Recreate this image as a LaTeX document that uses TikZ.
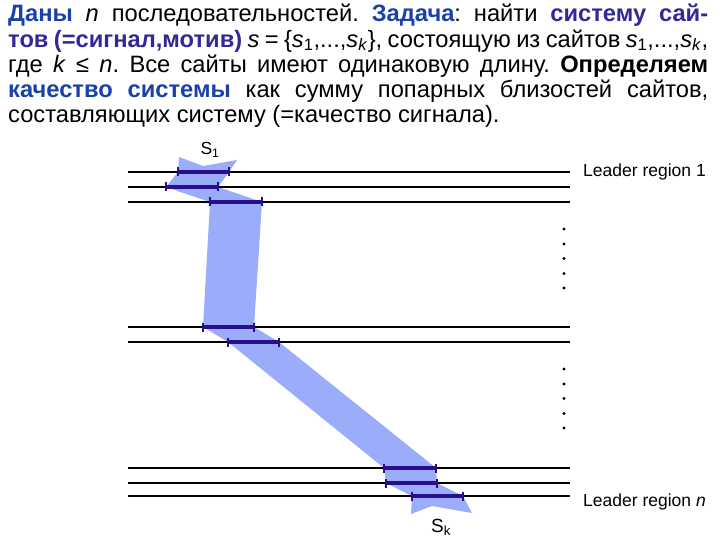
\documentclass[tikz,border=0pt]{standalone}
\usepackage{fontspec}
\setmainfont{Liberation Sans}
\definecolor{cblue}{RGB}{25,65,170}
\definecolor{cpurple}{RGB}{50,40,150}
\definecolor{band}{RGB}{155,172,250}
\definecolor{seg}{RGB}{40,15,140}
\tikzset{
  thinline/.style={line width=1.2bp, black},
  thickline/.style={line width=2.8bp, black},
  siteline/.style={line width=3.6bp, seg},
  sitetick/.style={line width=2.8bp, seg},
  leader/.style={anchor=base west, inner sep=0pt, font=\fontsize{17.5bp}{20bp}\selectfont},
  ldot/.style={circle, fill=black, inner sep=0pt, minimum size=3.4bp}
}
\begin{document}
\begin{tikzpicture}[x=1bp,y=-1bp]
\useasboundingbox (0,0) rectangle (720,540);
% paragraph
\node[anchor=north west, inner sep=0pt] (para) at (8,4) {\parbox[t]{700bp}{%
\fontsize{23.7bp}{25.2bp}\selectfont\frenchspacing\hyphenpenalty=10000\exhyphenpenalty=10000
{\bfseries\color{cblue}Даны} \textit{n} последовательностей. {\bfseries\color{cblue}Задача}: найти {\bfseries\color{cpurple}систему сай-}\linebreak
{\bfseries\color{cpurple}тов (=сигнал,мотив)} \textit{s} = \{\textit{s}\textsubscript{1},...,\textit{s}\textsubscript{\textit{k}}\}, состоящую из сайтов \textit{s}\textsubscript{1},...,\textit{s}\textsubscript{\textit{k}},\linebreak
где \textit{k} ≤ \textit{n}. Все сайты имеют одинаковую длину. \textbf{Определяем}\linebreak
{\bfseries\color{cblue}качество системы} как сумму попарных близостей сайтов,\linebreak
составляющих систему (=качество сигнала).}};
% band
\fill[band] (179,157) -- (203,166) -- (237,160) -- (229,172) -- (218,187) -- (262,202)
  -- (254,327) -- (279,342) -- (436,468) -- (437,483) -- (463,496) -- (472,513)
  -- (432,506) -- (411,514) -- (412,496) -- (386,483) -- (384,468) -- (228,342)
  -- (203,327) -- (210,202) -- (166,187) -- (178,172) -- cycle;
% lines
\coordinate (l1a) at (128,172); \coordinate (l1b) at (570,172);
\coordinate (l2a) at (128,187); \coordinate (l2b) at (570,187);
\coordinate (l3a) at (128,202); \coordinate (l3b) at (570,202);
\coordinate (l4a) at (128,327); \coordinate (l4b) at (570,327);
\coordinate (l5a) at (128,342); \coordinate (l5b) at (570,342);
\coordinate (l6a) at (128,468); \coordinate (l6b) at (570,468);
\coordinate (l7a) at (128,483); \coordinate (l7b) at (570,483);
\coordinate (l8a) at (128,496); \coordinate (l8b) at (570,496);
\draw[thinline] (l1a) -- (l1b);
\draw[thickline] (l2a) -- (l2b);
\draw[thinline] (l3a) -- (l3b);
\draw[thinline] (l4a) -- (l4b);
\draw[thickline] (l5a) -- (l5b);
\draw[thinline] (l6a) -- (l6b);
\draw[thinline] (l7a) -- (l7b);
\draw[thickline] (l8a) -- (l8b);
% sites
\coordinate (s1a) at (178,172); \coordinate (s1b) at (229,172);
\coordinate (s2a) at (166,187); \coordinate (s2b) at (218,187);
\coordinate (s3a) at (210,202); \coordinate (s3b) at (262,202);
\coordinate (s4a) at (203,327); \coordinate (s4b) at (254,327);
\coordinate (s5a) at (228,342); \coordinate (s5b) at (279,342);
\coordinate (s6a) at (384,468); \coordinate (s6b) at (436,468);
\coordinate (s7a) at (386,483); \coordinate (s7b) at (437,483);
\coordinate (s8a) at (412,496); \coordinate (s8b) at (463,496);
\foreach \i in {1,...,8} {
  \draw[siteline] (s\i a) -- (s\i b);
  \draw[sitetick] ([yshift=4.5bp]s\i a) -- ([yshift=-4.5bp]s\i a);
  \draw[sitetick] ([yshift=4.5bp]s\i b) -- ([yshift=-4.5bp]s\i b);
}
% labels
\node[anchor=base, inner sep=0pt, font=\fontsize{17.5bp}{20bp}\selectfont] (S1) at (210,155) {S\textsubscript{1}};
\node[anchor=base, inner sep=0pt, font=\fontsize{19bp}{22bp}\selectfont] (Sk) at (441,532) {S\textsubscript{k}};
\node[leader] (lr1) at (583,177) {Leader region 1};
\node[leader] (lrn) at (583,506) {Leader region \textit{n}};
% dots
\foreach \y [count=\j] in {229,244,258.5,273.5,288} \node[ldot] (da\j) at (564,\y) {};
\foreach \y [count=\j] in {369,384,398.5,413.5,428} \node[ldot] (db\j) at (564,\y) {};
\end{tikzpicture}
\end{document}
